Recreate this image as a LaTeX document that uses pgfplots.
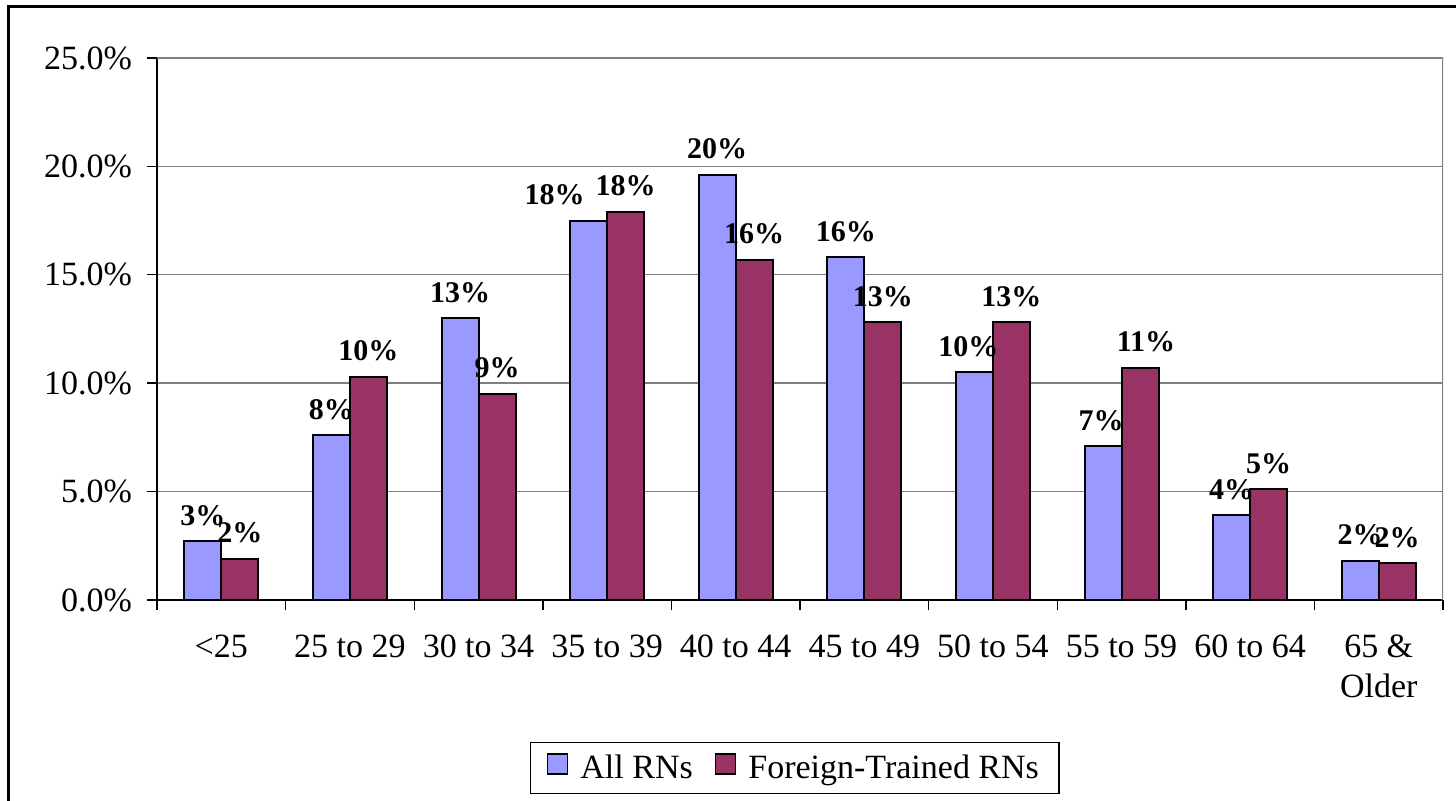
\documentclass[border=0pt]{standalone}
\usepackage{fontspec}
\setmainfont{Liberation Serif}
\usepackage{pgfplots}
\usepackage{pgfplotstable}
\pgfplotsset{compat=1.18}
\definecolor{allrn}{HTML}{9999FF}
\definecolor{ftrn}{HTML}{993366}
\definecolor{gridgray}{HTML}{808080}

% x y label label-shift(pt)
\pgfplotstableread{
x y lab dx
0 2.7 3 0
1 7.6 8 0
2 13.0 13 0
3 17.5 18 -17
4 19.6 20 0
5 15.8 16 0
6 10.5 10 -3
7 7.1 7 -1
8 3.9 4 0
9 1.8 2 0
}\allrns

\pgfplotstableread{
x y lab dx
0 1.9 2 0
1 10.3 10 0
2 9.5 9 0
3 17.9 18 0
4 15.7 16 0
5 12.8 13 0
6 12.8 13 0
7 10.7 11 3
8 5.1 5 0
9 1.7 2 0
}\foreignrns

\begin{document}
\begin{tikzpicture}
\useasboundingbox (-78.5pt,-100.5pt) rectangle (649.5pt,300pt);
\draw[line width=1.5pt] (-74pt,-110pt) -- (-74pt,296.5pt) -- (660pt,296.5pt);
\begin{axis}[
  at={(0,0)}, anchor=south west,
  scale only axis, width=643pt, height=271pt,
  ybar=0pt, bar width=18.5pt,
  xmin=-0.5, xmax=9.5, ymin=0, ymax=25,
  xtick={0,...,9},
  xticklabels={{<25},{25 to 29},{30 to 34},{35 to 39},{40 to 44},{45 to 49},{50 to 54},{55 to 59},{60 to 64},{65 \&\\Older}},
  minor xtick={-0.5,0.5,...,9.5},
  major x tick style={draw=none},
  ytick={0,5,...,25},
  yticklabel={\pgfmathprintnumber[fixed,fixed zerofill,precision=1]{\tick}\%},
  /pgf/number format/assume math mode=true,
  tick align=outside, major tick length=5pt, minor tick length=5pt,
  tick style={black, line width=0.7pt},
  axis x line*=bottom, axis y line*=left,
  axis line style={black, line width=0.8pt},
  ymajorgrids, grid style={gridgray, line width=0.7pt},
  ticklabel style={font=\fontsize{17}{20}\selectfont},
  xticklabel style={align=center, yshift=-9pt},
  yticklabel style={xshift=-4pt},
  point meta=explicit symbolic,
  nodes near coords={\pgfplotspointmeta\%},
  nodes near coords style={font=\bfseries\fontsize{15}{16}\selectfont, anchor=south, yshift=4pt},
  legend style={at={(0.496,-0.31)}, anchor=center, legend columns=2, draw=black, line width=0.6pt,
    font=\fontsize{17}{20}\selectfont, inner xsep=8pt, inner ysep=4pt,
    /tikz/every odd column/.append style={column sep=4pt},
    /tikz/every even column/.append style={column sep=9pt}},
  legend image code/.code={\draw[#1, line width=0.8pt] (0pt,-3pt) rectangle (10pt,7pt);},
]
\addplot[fill=allrn, draw=black, line width=1pt,
  visualization depends on={\thisrow{dx}\as\dx},
  every node near coord/.append style={xshift=\dx pt}]
  table[x=x, y=y, meta=lab]{\allrns};
\addplot[fill=ftrn, draw=black, line width=1pt,
  visualization depends on={\thisrow{dx}\as\dx},
  every node near coord/.append style={xshift=\dx pt}]
  table[x=x, y=y, meta=lab]{\foreignrns};
\legend{All RNs, Foreign-Trained RNs}
\draw[gridgray, line width=1pt] (rel axis cs:0,1) -- (rel axis cs:1,1) -- (rel axis cs:1,0);
\end{axis}
\end{tikzpicture}
\end{document}
